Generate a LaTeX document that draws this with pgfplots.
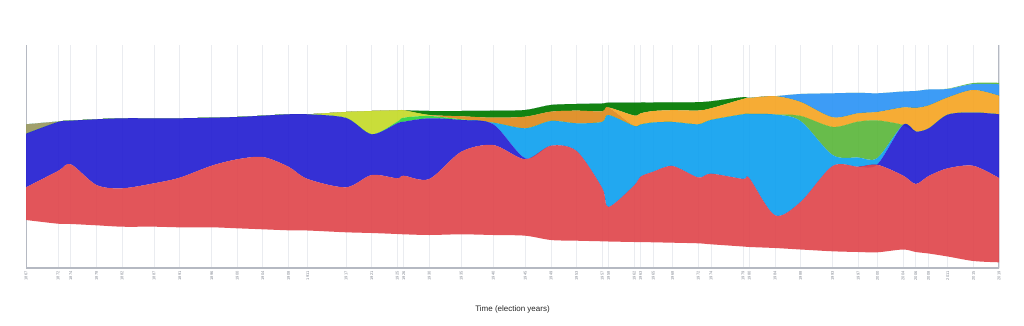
\documentclass[border=0pt]{standalone}
\usepackage{pgfplots}
\pgfplotsset{compat=1.18}
\usepackage{pgfplotstable}
\usepackage{fontspec}
\setmainfont{Liberation Sans}
\definecolor{cLib}{RGB}{224,72,78}
\definecolor{cCon}{RGB}{38,32,210}
\definecolor{cPC}{RGB}{17,161,239}
\definecolor{cRef}{RGB}{92,183,61}
\definecolor{cUFA}{RGB}{45,211,65}
\definecolor{cProg}{RGB}{197,218,43}
\definecolor{cCCF}{RGB}{222,139,31}
\definecolor{cNDP}{RGB}{245,166,38}
\definecolor{cSC}{RGB}{1,122,0}
\definecolor{cAnti}{RGB}{153,152,97}
\definecolor{cBQ}{RGB}{46,149,245}
\definecolor{cGP}{RGB}{87,184,60}
\definecolor{gridc}{RGB}{234,236,240}
\definecolor{axc}{RGB}{181,185,194}
\definecolor{tickc}{RGB}{130,135,145}
\pgfplotstableread{
year base lib con pc ref ufa prog ccf ndp sc anti bq gp
1867 48.0 32.7 53.6 0 0 0 0 0 0 0 9.4 0 0
1872 44.3 52.7 49.0 0 0 0 0 0 0 0 0.5 0 0
1874 44.0 59.7 43.6 0 0 0 0 0 0 0 0 0 0
1878 42.7 40.3 65.7 0 0 0 0 0 0 0 0 0 0
1882 41.3 38.4 70.0 0 0 0 0 0 0 0 0 0 0
1887 41.3 43.4 65.0 0 0 0 0 0 0 0 0 0 0
1891 40.7 49.6 59.4 0 0 0 0 0 0 0 0 0 0
1896 40.7 61.6 48.0 0 0 0 0 0 0 0 0 0 0
1900 39.7 69.0 42.3 0 0 0 0 0 0 0 0 0 0
1904 38.7 72.3 41.3 0 0 0 0 0 0 0 0 0 0
1908 37.7 63.6 52.4 0 0 0 0 0 0 0 0 0 0
1911 37.5 51.5 64.7 0 0 0 0 0 0 0 0 0 0
1917 35.7 45.0 69.3 0 0 0 6.0 0 0 0 0 0 0
1921 35.0 58.0 40.7 0 0 0 23.3 0 0 0 0 0 0
1925 34.0 55.7 55.0 0 0 1.6 11.4 0 0 0 0 0 0
1926 33.7 58.6 54.0 0 0 4.0 7.4 0 0 0 0 0 0
1930 33.0 56.0 60.7 0 0 2.3 0.7 0.3 0 4.0 0 0 0
1935 33.7 82.6 31.7 0 0 0.7 0 3.0 0 5.3 0 0 0
1940 33.0 90.0 20.7 1.6 0 0 0 5.0 0 7.0 0 0 0
1945 32.3 76.4 1.0 30.0 0 0 0 11.6 0 6.7 0 0 0
1949 28.0 94.3 0 24.7 0 0 0 9.3 0 6.7 0 0 0
1953 27.3 89.7 0 27.7 0 0 0 12.6 0 6.7 0 0 0
1957 26.7 53.3 0 66.0 0 0 0 10.7 0 7.8 0 0 0
1958 26.5 34.5 0 92.0 0 0 0 7.5 0 4.8 0 0 0
1962 26.0 56.5 0 59.5 0 0 0 0 10.5 12.8 0 0 0
1963 26.0 65.3 0 52.2 0 0 0 0 11.2 10.8 0 0 0
1965 25.7 70.6 0 49.2 0 0 0 0 11.5 8.5 0 0 0
1968 25.3 76.7 0 44.0 0 0 0 0 11.8 7.9 0 0 0
1972 24.7 65.8 0 53.2 0 0 0 0 13.8 8.3 0 0 0
1974 23.7 70.6 0 53.7 0 0 0 0 11.7 7.0 0 0 0
1979 21.5 67.5 0 64.7 0 0 0 0 15.3 1.8 0 0 0
1980 21.0 68.7 0 64.3 0 0 0 0 16.0 0 0 0 0
1984 20.0 32.7 0 100.8 0 0 0 0 18.3 0 0 0 0
1988 18.5 47.5 0 81.0 5.0 0 0 0 14.0 0 0 8.0 0
1993 16.7 85.3 0 11.0 28.0 0 0 0 9.7 0 0 24.0 0
1997 16.0 85.3 0 9.2 35.8 0 0 0 8.4 0 0 20.5 0
2000 15.7 87.5 0.5 6.3 37.5 0 0 0 8.5 0 0 18.7 0
2004 18.5 74.0 50.5 0 0 0 0 0 17.5 0 0 16.0 0
2006 16.0 68.0 52.5 0 0 0 0 0 23.5 0 0 17.0 0
2008 14.5 77.5 47.5 0 0 0 0 0 23.0 0 0 16.0 0
2011 11.5 88.2 53.6 0 0 0 0 0 17.2 0 0 8.5 0.3
2015 7.0 95.2 53.3 0 0 0 0 0 22.5 0 0 6.0 1.0
2019 5.7 84.3 63.7 0 0 0 0 0 18.5 0 0 11.5 1.5
}\data
\begin{document}
\begin{tikzpicture}
\useasboundingbox (0,0) rectangle (1024pt,325pt);
\begin{axis}[
  at={(26pt,57pt)}, anchor=south west,
  scale only axis, width=973pt, height=223pt,
  xmin=1867, xmax=2019, ymin=0, ymax=223,
  stack plots=y,
  axis x line*=bottom, axis y line*=left, axis line style={draw=none},
  ytick=\empty,
  xtick={1867,1872,1874,1878,1882,1887,1891,1896,1900,1904,1908,1911,1917,1921,1925,1926,1930,1935,1940,1945,1949,1953,1957,1958,1962,1963,1965,1968,1972,1974,1979,1980,1984,1988,1993,1997,2000,2004,2006,2008,2011,2015,2019},
  xticklabel style={rotate=90, anchor=east, font=\fontsize{4}{4}\selectfont, text=tickc, /pgf/number format/1000 sep={}, /pgf/number format/assume math mode=true},
  major tick length=0pt,
  xmajorgrids, grid style={color=gridc, line width=0.8pt},
  xlabel={Time (election years)},
  xlabel style={at={(axis description cs:0.5,-0.188)}, anchor=center, font=\fontsize{8}{10}\selectfont, text=black!85},
  every axis plot/.append style={smooth, draw=none, fill opacity=0.93},
]
\addplot[draw=none, fill=none] table[x=year,y=base]{\data};
\addplot[fill=cLib] table[x=year,y=lib]{\data} \closedcycle;
\addplot[fill=cCon] table[x=year,y=con]{\data} \closedcycle;
\addplot[fill=cPC] table[x=year,y=pc]{\data} \closedcycle;
\addplot[fill=cRef] table[x=year,y=ref]{\data} \closedcycle;
\addplot[fill=cUFA] table[x=year,y=ufa]{\data} \closedcycle;
\addplot[fill=cProg] table[x=year,y=prog]{\data} \closedcycle;
\addplot[fill=cCCF] table[x=year,y=ccf]{\data} \closedcycle;
\addplot[fill=cNDP] table[x=year,y=ndp]{\data} \closedcycle;
\addplot[fill=cSC] table[x=year,y=sc]{\data} \closedcycle;
\addplot[fill=cAnti] table[x=year,y=anti]{\data} \closedcycle;
\addplot[fill=cBQ] table[x=year,y=bq]{\data} \closedcycle;
\addplot[fill=cGP] table[x=year,y=gp]{\data} \closedcycle;
\draw[axc, line width=1.2pt] (rel axis cs:0,1) -- (rel axis cs:0,0) -- (rel axis cs:1,0) -- (rel axis cs:1,1);
\end{axis}
\end{tikzpicture}
\end{document}
